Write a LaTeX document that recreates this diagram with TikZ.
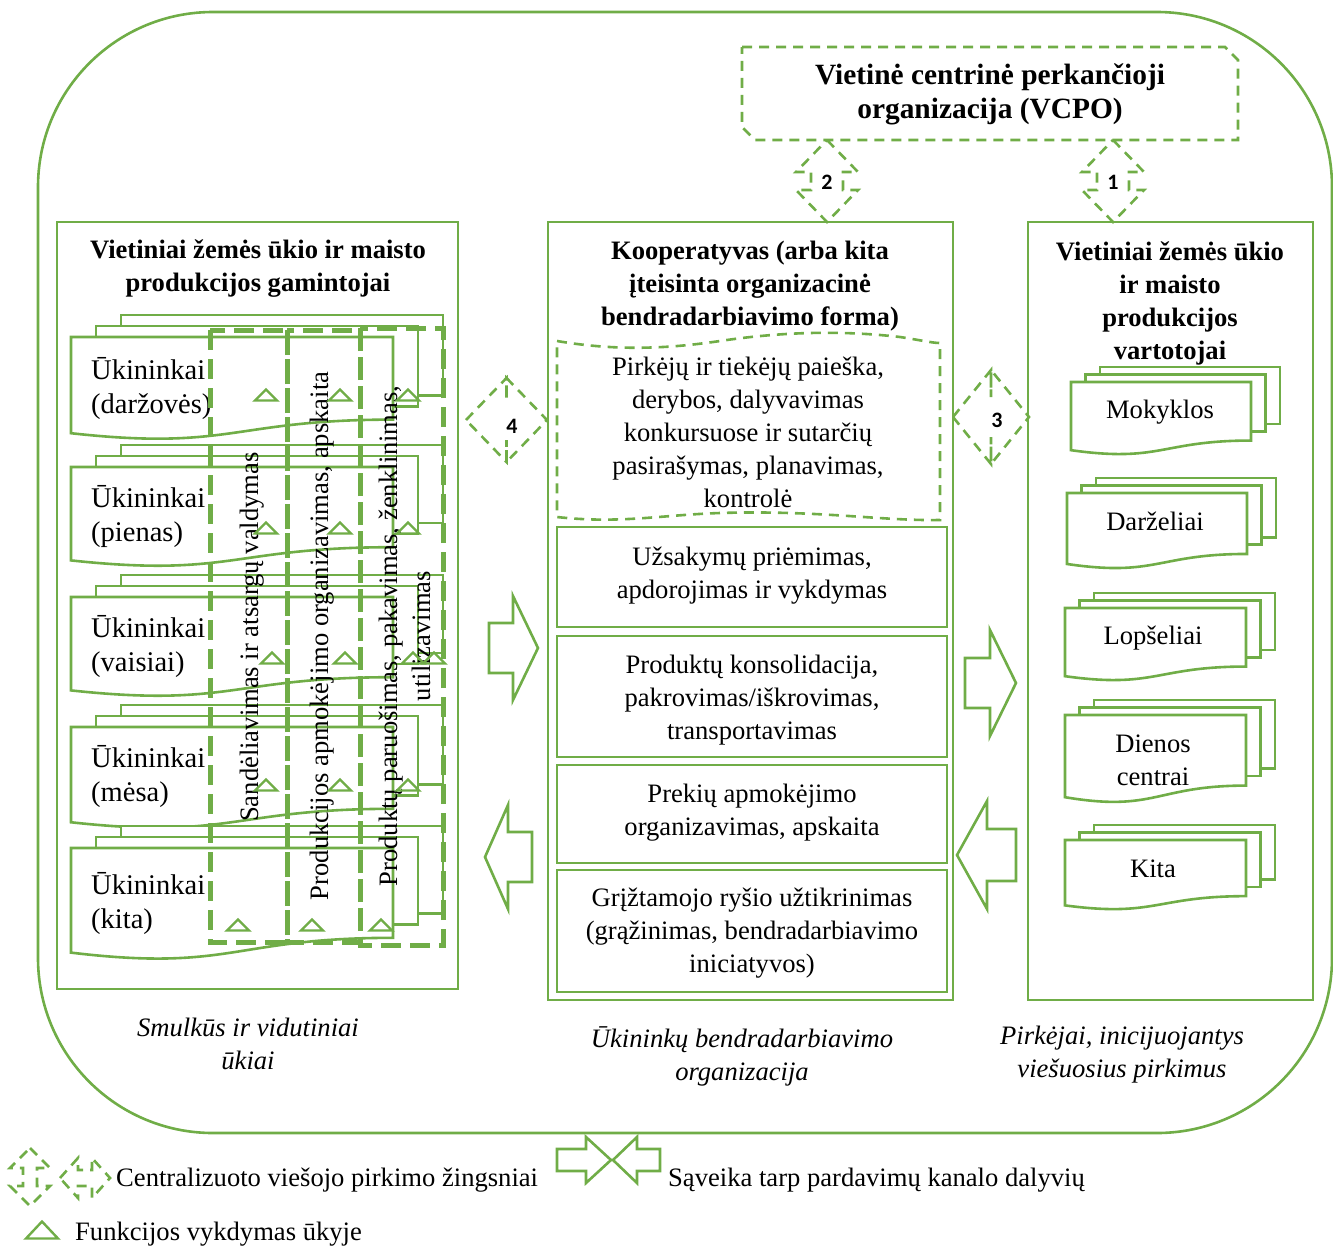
\documentclass[tikz,border=0pt]{standalone}
\usepackage{fontspec}
\setmainfont{Liberation Serif}
\newfontfamily\numfont{Carlito}
\usetikzlibrary{calc}
\definecolor{gr}{HTML}{70AD47}
\newcommand\fs{\fontsize{26.6}{33}\selectfont}
\newcommand\fsdoc{\fontsize{28.5}{34}\selectfont}
\newcommand\fsvc{\fontsize{29.4}{34}\selectfont}

% multi-document shape: name, x, y (top of front page), w, h, dx, dy
\newcommand\mdoc[7]{%
  \draw[ln, fill=white] ({#2+2*#6},{#3-2*#7}) rectangle ++(#4,{0.78*#5});
  \draw[ln, fill=white] ({#2+#6},{#3-#7}) rectangle ++(#4,{0.78*#5});
  \draw[ln, fill=white] (#2,#3) -- ({#2+#4},#3) -- ({#2+#4},{#3+0.802*#5})
     .. controls ({#2+#4/2},{#3+0.802*#5}) and ({#2+#4/2},{#3+1.107*#5}) .. (#2,{#3+0.934*#5}) -- cycle;
  \coordinate (#1) at ({#2+#4/2},{#3+0.45*#5});
}
% small outline triangle: x, y, w, h
\newcommand\tri[4]{%
  \draw[triln] ({#1-#3/2},{#2+#4/2}) -- (#1,{#2-#4/2}) -- ({#1+#3/2},{#2+#4/2}) -- cycle;}
% dashed up-down arrow: cx, top, bottom, head length, head half width, shaft half width
\newcommand\udarrow[6]{%
  \draw[dsh] (#1,#2) -- ({#1+#5},{#2+#4}) -- ({#1+#6},{#2+#4}) -- ({#1+#6},{#3-#4}) -- ({#1+#5},{#3-#4})
   -- (#1,#3) -- ({#1-#5},{#3-#4}) -- ({#1-#6},{#3-#4}) -- ({#1-#6},{#2+#4}) -- ({#1-#5},{#2+#4}) -- cycle;}
% dashed left-right arrow: cy, left, right, head length, head half height, shaft half height
\newcommand\lrarrow[6]{%
  \draw[dsh] (#2,#1) -- ({#2+#4},{#1-#5}) -- ({#2+#4},{#1-#6}) -- ({#3-#4},{#1-#6}) -- ({#3-#4},{#1-#5})
   -- (#3,#1) -- ({#3-#4},{#1+#5}) -- ({#3-#4},{#1+#6}) -- ({#2+#4},{#1+#6}) -- ({#2+#4},{#1+#5}) -- cycle;}
% block arrow: shaft end x, head base x, tip x, cy, head half height, shaft half height
\newcommand\barrow[6]{%
  \draw[ln, fill=white] (#1,{#4-#6}) -- (#2,{#4-#6}) -- (#2,{#4-#5}) -- (#3,#4) -- (#2,{#4+#5})
   -- (#2,{#4+#6}) -- (#1,{#4+#6}) -- cycle;}

\begin{document}
\begin{tikzpicture}[x=1pt,y=-1pt,
  ln/.style={draw=gr, line width=2.6pt, line join=miter},
  dsh/.style={draw=gr, line width=2.6pt, dash pattern=on 10pt off 7pt},
  coldash/.style={draw=gr, line width=5pt, dash pattern=on 20pt off 9pt},
  triln/.style={draw=gr, line width=2.4pt, line join=miter},
  txt/.style={font=\fs, align=center, inner sep=0pt, yshift=-2.5pt},
  rot/.style={font=\fs, align=center, inner sep=0pt, rotate=90},
  ttl/.style={font=\fs\bfseries, align=center, inner sep=0pt, yshift=-2.5pt},
  capt/.style={font=\fs\itshape, align=center, inner sep=0pt},
  doctxt/.style={font=\fsdoc, align=left, inner sep=0pt, anchor=west, yshift=-2pt},
  num/.style={font=\numfont\fontsize{22}{24}\selectfont\bfseries, inner sep=0pt}]
\useasboundingbox (0,0) rectangle (1333,1245);

% outer frame
\draw[ln, rounded corners=175pt] (38,12) rectangle (1332,1133);

% VCPO
\draw[dsh] (742,47) -- (1225,47) -- (1238,60) -- (1238,140) -- (755,140) -- (742,127) -- cycle;
\node[ttl, font=\fsvc\bfseries] (vcpo) at (990,92) {Vietinė centrinė perkančioji\\organizacija (VCPO)};

% three columns
\draw[ln] (57,222) rectangle (458,989);
\draw[ln] (548,222) rectangle (953,1000);
\draw[ln] (1028,222) rectangle (1313,1000);
\node[ttl] (ltitle) at (258,266.5) {Vietiniai žemės ūkio ir maisto\\produkcijos gamintojai};
\node[ttl] (mtitle) at (750,284) {Kooperatyvas (arba kita\\įteisinta organizacinė\\bendradarbiavimo forma)};
\node[ttl] (rtitle) at (1170,300.5) {Vietiniai žemės ūkio\\ir maisto\\produkcijos\\vartotojai};

% farms
\mdoc{d1}{71}{337}{322}{103}{25}{11}
\mdoc{d2}{71}{467}{322}{100}{25}{11}
\mdoc{d3}{71}{597}{322}{100}{25}{11}
\mdoc{d4}{71}{727}{322}{102}{25}{11}
\mdoc{d5}{71}{848}{322}{112}{25}{11}
\node[doctxt] (f1) at (91,387) {Ūkininkai\\(daržovės)};
\node[doctxt] (f2) at (91,515) {Ūkininkai\\(pienas)};
\node[doctxt] (f3) at (91,645) {Ūkininkai\\(vaisiai)};
\node[doctxt] (f4) at (91,775) {Ūkininkai\\(mėsa)};
\node[doctxt] (f5) at (91,901) {Ūkininkai\\(kita)};

% function columns
\draw[coldash] (210,330) rectangle (287,942);
\draw[coldash] (287,330) rectangle (360,942);
\draw[coldash] (360,328) rectangle (443,945);
\node[rot] (fn1) at (252,637) {Sandėliavimas ir atsargų valdymas};
\node[rot] (fn2) at (322,636) {Produkcijos apmokėjimo organizavimas, apskaita};
\node[rot] (fn3) at (405,636) {Produktų paruošimas, pakavimas, ženklinimas,\\utilizavimas};

% function marks
\foreach \y in {395,528,785}{\tri{266}{\y}{22}{11}\tri{340}{\y}{22}{11}\tri{408}{\y}{22}{11}}
\tri{272}{658}{22}{11}\tri{345}{658}{22}{11}\tri{413}{658}{22}{11}\tri{434}{658}{22}{11}
\tri{238}{925}{22}{11}\tri{312}{925}{22}{11}\tri{381}{925}{22}{11}

% cooperative functions
\draw[dsh] (557,341) .. controls (610,350) and (660,350) .. (720,341)
   .. controls (780,332) and (840,330) .. (900,337) .. controls (920,340) and (932,343) .. (940,343)
   -- (940,520) .. controls (880,521) and (820,510) .. (720,513)
   .. controls (660,515) and (620,524) .. (557,517) -- cycle;
\node[txt, yshift=2.5pt] (c0) at (748,432.5) {Pirkėjų ir tiekėjų paieška,\\derybos, dalyvavimas\\konkursuose ir sutarčių\\pasirašymas, planavimas,\\kontrolė};
\draw[ln] (557,527) rectangle (947,627);
\node[txt] (c1) at (752,573) {Užsakymų priėmimas,\\apdorojimas ir vykdymas};
\draw[ln] (557,636) rectangle (947,757);
\node[txt] (c2) at (752,698) {Produktų konsolidacija,\\pakrovimas/iškrovimas,\\transportavimas};
\draw[ln] (557,765) rectangle (947,863);
\node[txt] (c3) at (752,810.5) {Prekių apmokėjimo\\organizavimas, apskaita};
\draw[ln] (557,870) rectangle (947,992);
\node[txt] (c4) at (752,931) {Grįžtamojo ryšio užtikrinimas\\(grąžinimas, bendradarbiavimo\\iniciatyvos)};

% buyers
\mdoc{b1}{1071}{382}{180}{73}{14.5}{7.5}
\mdoc{b2}{1067}{493}{180}{76}{14.5}{7.5}
\mdoc{b3}{1065}{608}{181}{73}{14.5}{7.5}
\mdoc{b4}{1065}{715}{181}{88}{14.5}{7.5}
\mdoc{b5}{1065}{840}{181}{70}{14.5}{7.5}
\node[txt] (k1) at (1160,410) {Mokyklos};
\node[txt] (k2) at (1155,519) {Darželiai};
\node[txt] (k3) at (1153,636) {Lopšeliai};
\node[txt] (k4) at (1153,758) {Dienos\\centrai};
\node[txt] (k5) at (1153,866) {Kita};

% procurement steps
\udarrow{827}{140}{222}{32}{31}{16}
\node[num] (s2) at (827,182) {2};
\udarrow{1113}{140}{222}{32}{31}{16}
\node[num] (s1) at (1113,182) {1};
\lrarrow{420}{466}{547}{40.5}{42}{20}
\node[num] (s4) at (512,426) {4};
\lrarrow{417}{953}{1029}{38}{47}{20}
\node[num] (s3) at (997,420) {3};

% interaction arrows
\barrow{489}{513}{538}{648}{52}{25}
\barrow{532}{508}{485}{857}{52}{25}
\barrow{965}{990}{1016}{683}{53}{25}
\barrow{1016}{987}{957}{855}{54}{26}

% captions
\node[capt] (cl) at (248,1043.5) {Smulkūs ir vidutiniai\\ūkiai};
\node[capt] (cm) at (742,1056) {Ūkininkų bendradarbiavimo\\organizacija};
\node[capt] (cr) at (1122,1054.5) {Pirkėjai, inicijuojantys\\viešuosius pirkimus};

% legend
\udarrow{30}{1148}{1206}{20}{20}{7}
\lrarrow{1178}{60}{110}{18}{20}{8}
\node[txt, anchor=west] (lg1) at (116,1178) {Centralizuoto viešojo pirkimo žingsniai};
\barrow{557}{586}{611}{1160}{23}{11}
\barrow{660}{637}{613}{1160}{23}{11}
\node[txt, anchor=west] (lg2) at (668,1178) {Sąveika tarp pardavimų kanalo dalyvių};
\tri{42}{1230}{32}{17}
\node[txt, anchor=west] (lg3) at (75,1232) {Funkcijos vykdymas ūkyje};
\end{tikzpicture}
\end{document}
